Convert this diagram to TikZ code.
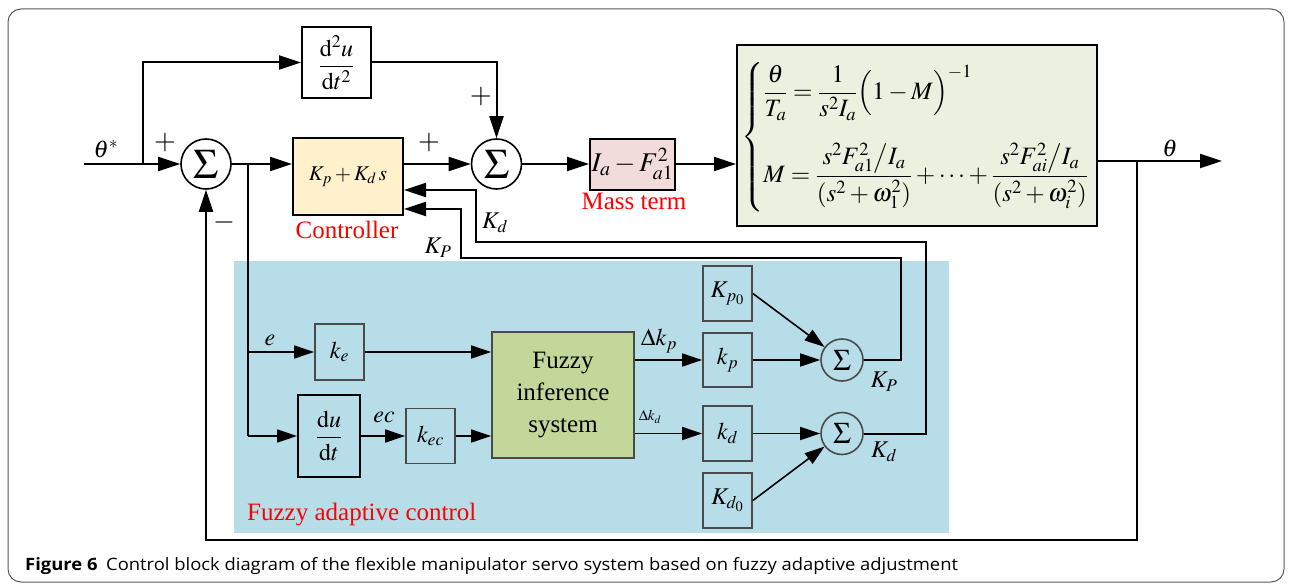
\documentclass[tikz,border=0pt]{standalone}
\usepackage{amsmath}
\usepackage{mathptmx}
\usepackage{fontspec}
\setmainfont{Liberation Serif}
\newfontfamily\capfont{Open Sans}
\usetikzlibrary{arrows.meta,calc}
\definecolor{ctrlfill}{HTML}{FFF1CC}
\definecolor{massfill}{HTML}{F2DCDB}
\definecolor{plantfill}{HTML}{EBF1DE}
\definecolor{fisfill}{HTML}{C4D79B}
\definecolor{regionfill}{HTML}{B7DDE8}
\definecolor{boxgrey}{HTML}{4A4A4A}
\definecolor{framegrey}{HTML}{5A5A5A}
\newcommand{\fs}[1]{\fontsize{#1}{#1}\selectfont}
\begin{document}
\begin{tikzpicture}[x=1pt,y=-1pt,
  blk/.style={draw=black, line width=2pt, inner sep=0pt, font=\fs{24}},
  fblk/.style={draw=boxgrey, line width=1.7pt, inner sep=0pt, font=\fs{24}},
  sumnode/.style={circle, draw=black, line width=1.6pt, inner sep=0pt, minimum size=50pt, font=\fs{42}},
  smallsum/.style={circle, draw=boxgrey, line width=1.6pt, inner sep=0pt, minimum size=42pt, font=\fs{30}},
  wire/.style={line width=2pt, -{Triangle[length=22pt,width=14pt]}},
  line/.style={line width=1.8pt},
  thin wire/.style={line width=1.6pt, -{Triangle[length=20pt,width=13pt]}},
  lbl/.style={inner sep=0pt, font=\fs{24}},
  redlbl/.style={inner sep=0pt, text=red, font=\fs{25}}
]
\useasboundingbox (0,0) rectangle (1293,586);
% outer frame
\draw[framegrey, line width=1pt, rounded corners=13pt] (8,9) rectangle (1284,582);
% shaded region for the fuzzy adaptive part
\fill[regionfill] (234,261) rectangle (949,533);

% ---- main loop blocks ----
\node[sumnode] (sumA) at (206,164) {$\Sigma$};
\node[sumnode] (sumB) at (496.5,164) {$\Sigma$};
\node[blk, minimum width=69pt, minimum height=71pt] (dd2) at (336.5,62.5)
  {$\dfrac{\mathrm{d}^2u}{\mathrm{d}t^2}$};
\node[blk, fill=ctrlfill, minimum width=110pt, minimum height=77pt] (ctrl) at (348,176.5)
  {\fs{21}$K_p+K_d\,s$};
\node[blk, fill=massfill, minimum width=85pt, minimum height=51pt] (mass) at (632.5,164)
  {\fs{27}$I_a-F_{a1}^2$};
\node[blk, fill=plantfill, minimum width=360pt, minimum height=181pt] (plant) at (917,135.5) {};
\node[inner sep=0pt, anchor=west, font=\fs{25}] (eq) at (741,137)
  {$\left\{\begin{array}{@{}l@{}}
    \dfrac{\theta}{T_a}=\dfrac{1}{s^2I_a}\Bigl(1-M\Bigr)^{-1}\\[36pt]
    M=\dfrac{s^2F_{a1}^2\big/I_a}{(s^2+\omega_1^2)}+\cdots+\dfrac{s^2F_{ai}^2\big/I_a}{(s^2+\omega_i^2)}
  \end{array}\right.$};

\node[redlbl] (lctrl) at (347,230) {Controller};
\node[redlbl] (lmass) at (634,201) {Mass term};

% ---- fuzzy adaptive blocks ----
\node[fblk, minimum width=49pt, minimum height=56pt] (ke) at (339.5,352) {$k_e$};
\node[fblk, line width=2pt, draw=black, minimum width=62pt, minimum height=82pt] (ddt) at (329,436)
  {$\dfrac{\mathrm{d}u}{\mathrm{d}t}$};
\node[fblk, minimum width=49pt, minimum height=55pt] (kec) at (430.5,436) {$k_{ec}$};
\node[fblk, fill=fisfill, minimum width=142pt, minimum height=126pt, align=center, font=\fs{25}] (fis) at (563,395)
  {Fuzzy\\[7pt]inference\\[7pt]system};
\node[fblk, minimum width=49pt, minimum height=55pt] (Kp0) at (727.5,293.5) {$K_{p_0}$};
\node[fblk, minimum width=49pt, minimum height=54pt] (kp) at (727.5,360) {$k_p$};
\node[fblk, minimum width=49pt, minimum height=55pt] (kd) at (727.5,433.5) {$k_d$};
\node[fblk, minimum width=49pt, minimum height=55pt] (Kd0) at (727.5,500.5) {$K_{d_0}$};
\node[smallsum] (sP) at (842,360) {$\Sigma$};
\node[smallsum] (sD) at (842,433.5) {$\Sigma$};

\node[redlbl, anchor=west] (lfuz) at (247,515) {Fuzzy adaptive control};

% ---- coordinates for branch points and bends ----
\coordinate (in) at (84,164);
\coordinate (br1) at (143,164);
\coordinate (br2) at (248,164);
\coordinate (br3) at (248,436);
\coordinate (outE) at (1222,161);
\coordinate (fbR) at (1137,161);
\coordinate (fbL) at (206,540);
\coordinate (kpA) at (901,258);
\coordinate (kpB) at (461,209);
\coordinate (kdA) at (926,242);
\coordinate (kdB) at (476,190);

% ---- main loop connectors ----
\draw[wire] (in) -- (sumA.west);
\draw[wire] (br1) |- (dd2.west);
\draw[wire] (dd2.east) -| (sumB.north);
\draw[wire] (sumA.east) -- (sumA.east -| ctrl.west);
\draw[wire] (ctrl.east |- sumB) -- (sumB.west);
\draw[wire] (sumB.east) -- (mass.west);
\draw[wire] (mass.east) -- (mass.east -| plant.west);
\draw[wire] (plant.east |- outE) -- (outE);
\draw[wire] (fbR) |- (fbL) -- (sumA.south);

% ---- error and derivative paths ----
\draw[line] (br2) -- (br3);
\draw[thin wire] (br2 |- ke) -- (ke.west);
\draw[thin wire] (br3) -- (ddt.west);
\draw[thin wire] (ke.east) -- (ke.east -| fis.west);
\draw[thin wire] (ddt.east) -- (kec.west);
\draw[thin wire] (kec.east) -- (kec.east -| fis.west);
\draw[thin wire] (fis.east |- kp) -- (kp.west);
\draw[thin wire] (fis.east |- kd) -- (kd.west);
\draw[thin wire] (kp.east) -- (sP.west);
\draw[thin wire] (kd.east) -- (sD.west);
\draw[thin wire] (Kp0.east) -- (sP);
\draw[thin wire] (Kd0.east) -- (sD);

% ---- gain feedback to the controller ----
\draw[wire] (sP.east) -| (kpA) -| (kpB) -- (kpB -| ctrl.east);
\draw[wire] (sD.east) -| (kdA) -| (kdB) -- (kdB -| ctrl.east);

% ---- signal labels ----
\node[lbl] (lth) at (106,149) {$\theta^{*}$};
\node[lbl, font=\fs{28}] (p1) at (165,143) {$+$};
\node[lbl, font=\fs{28}] (p2) at (481,97) {$+$};
\node[lbl, font=\fs{28}] (p3) at (429,143) {$+$};
\node[lbl, font=\fs{28}] (m1) at (224,222) {$-$};
\node[lbl] (lKd) at (495,223) {$K_d$};
\node[lbl] (lKP) at (438,248) {$K_P$};
\node[lbl] (lout) at (1170,148) {$\theta$};
\node[lbl] (le) at (270,340) {$e$};
\node[lbl] (lec) at (384,417) {$ec$};
\node[lbl] (ldkp) at (659,341) {$\Delta k_p$};
\node[lbl, font=\fs{15}] (ldkd) at (650,417) {$\Delta k_d$};
\node[lbl] (lKP2) at (884,382) {$K_P$};
\node[lbl] (lKd2) at (884,452) {$K_d$};

% ---- caption ----
\node[anchor=base west, inner sep=0pt, font=\capfont\fs{17}] (cap) at (25,570)
  {\scalebox{1.082}[1]{\textbf{Figure 6}\hspace{8pt}Control block diagram of the flexible manipulator servo system based on fuzzy adaptive adjustment}};
\end{tikzpicture}
\end{document}
